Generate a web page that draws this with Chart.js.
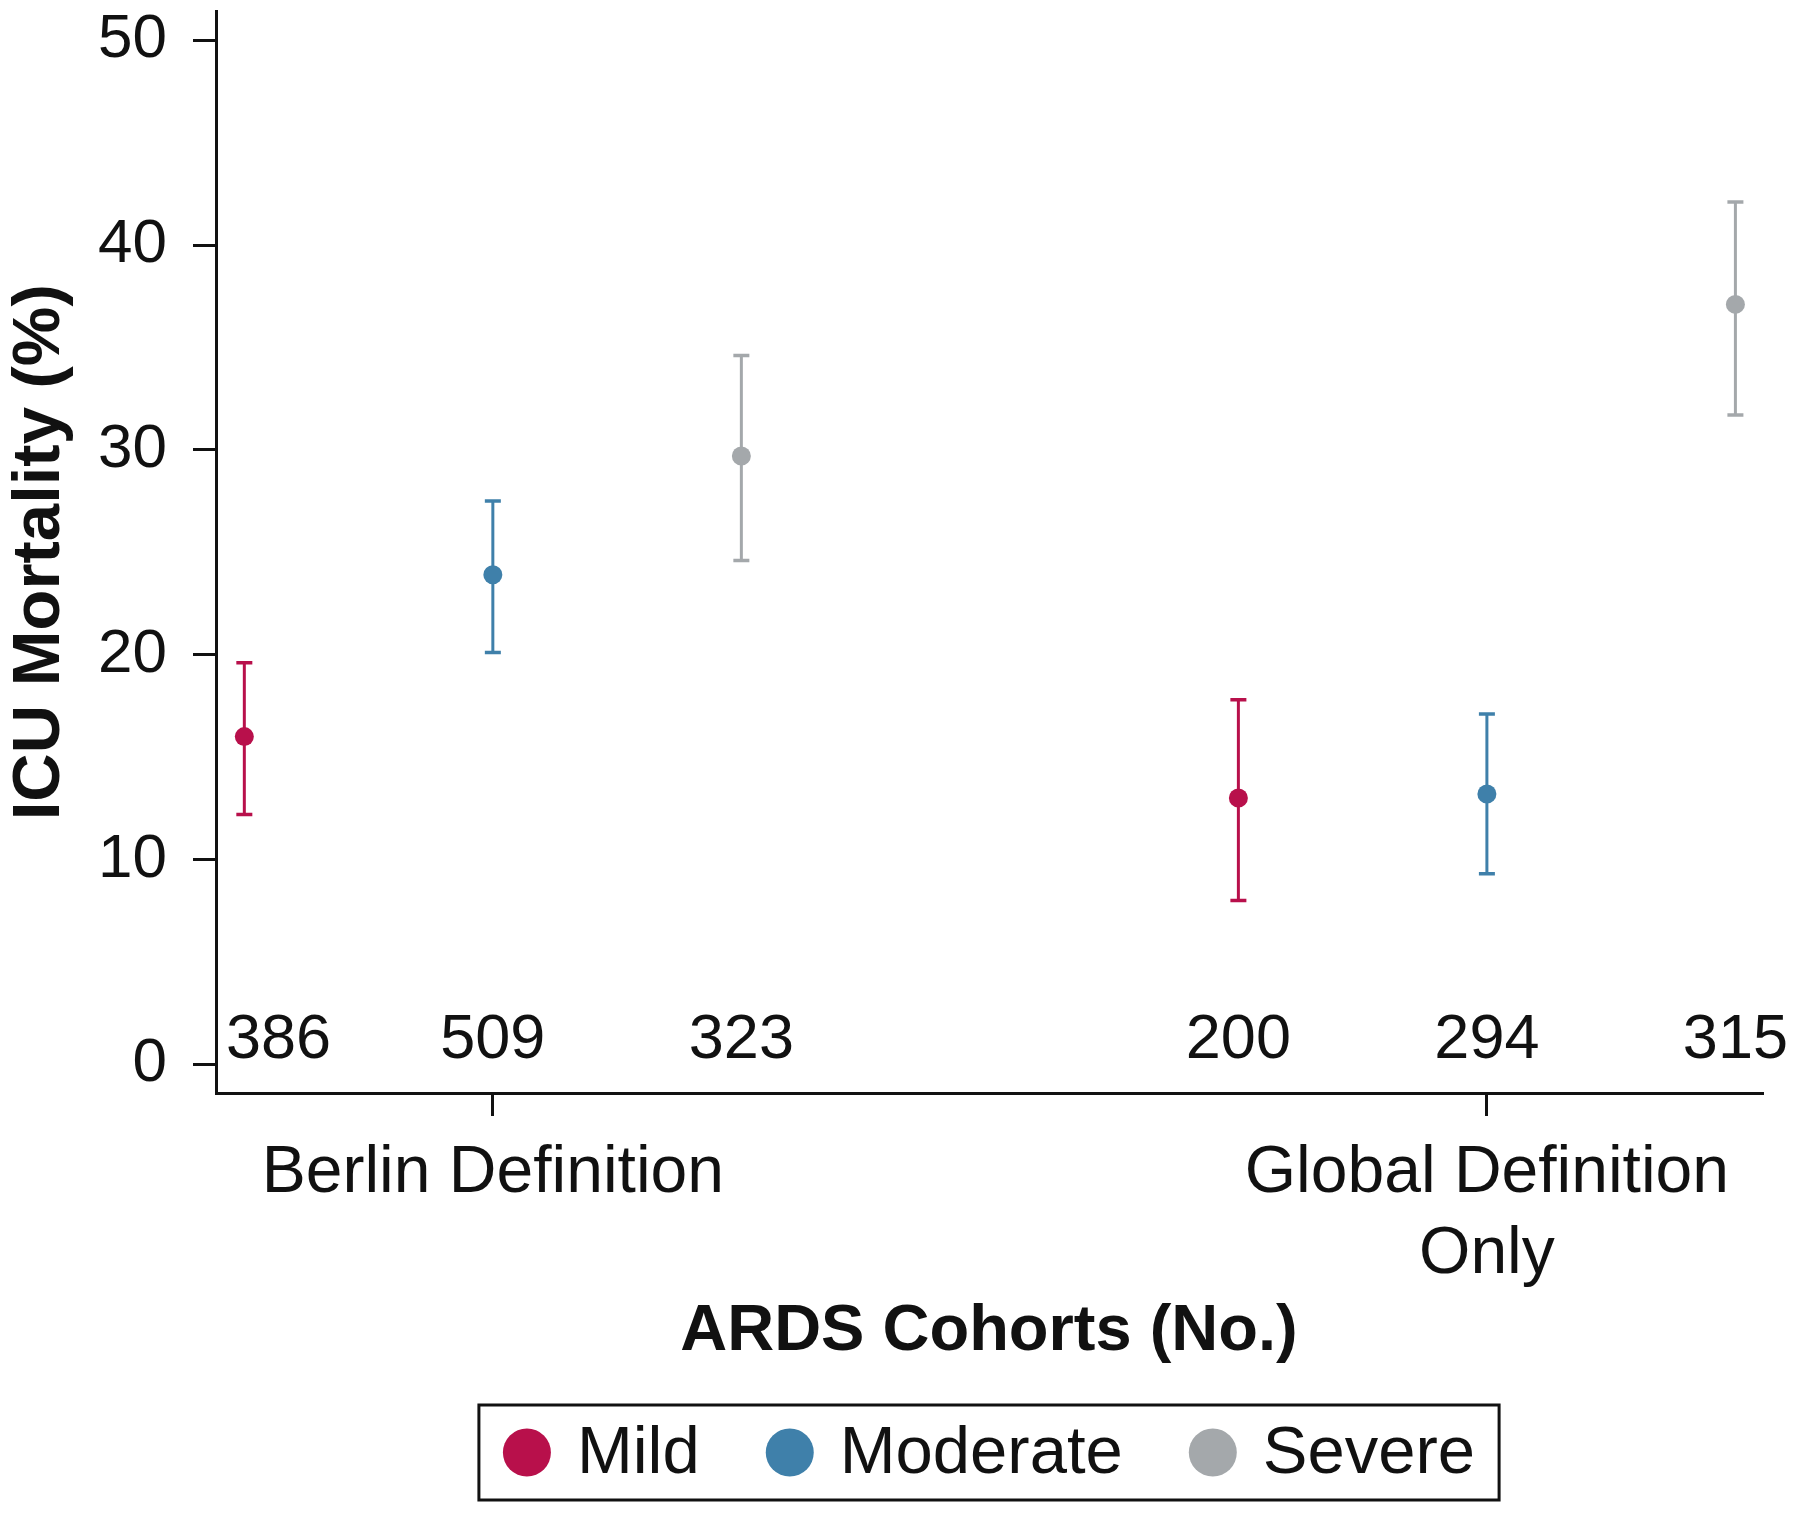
<!DOCTYPE html>
<html>
<head>
<meta charset="utf-8">
<title>ICU Mortality by ARDS Cohort</title>
<script src="https://cdn.jsdelivr.net/npm/chart.js@4.4.1/dist/chart.umd.min.js"></script>
<style>
  html, body { margin: 0; padding: 0; background: #fff; }
  #wrap { width: 1800px; height: 1514px; }
</style>
</head>
<body>
<div id="wrap"><canvas id="mortalityChart" width="1800" height="1514"></canvas></div>
<script>
// categories and series
var groupLabels = ['Berlin Definition', ['Global Definition', 'Only']];
var groupPositions = [1, 5];
var severityLabels = ['Mild', 'Moderate', 'Severe'];
var severityOffsets = [-1, 0, 1];
var severityColors = ['#b8104b', '#3f80aa', '#a4a8ab'];

// ICU mortality (%) per severity: [Berlin, Global]
var mildMortality = [16.0, 13.0];
var mildLower = [12.2, 8.0];
var mildUpper = [19.6, 17.8];
var moderateMortality = [23.9, 13.2];
var moderateLower = [20.1, 9.3];
var moderateUpper = [27.5, 17.1];
var severeMortality = [29.7, 37.1];
var severeLower = [24.6, 31.7];
var severeUpper = [34.6, 42.1];

// cohort sizes (No.) per severity: [Berlin, Global]
var mildCounts = [386, 200];
var moderateCounts = [509, 294];
var severeCounts = [323, 315];

var yTickValues = [0, 10, 20, 30, 40, 50];

var mortalityBySeverity = [mildMortality, moderateMortality, severeMortality];
var lowerBySeverity = [mildLower, moderateLower, severeLower];
var upperBySeverity = [mildUpper, moderateUpper, severeUpper];
var countsBySeverity = [mildCounts, moderateCounts, severeCounts];

var fontFamily = '"Liberation Sans", Arial, Helvetica, sans-serif';
var textColor = '#111111';

function xFor(sev, grp) {
	return groupPositions[grp] + severityOffsets[sev];
}

var datasets = [];
severityLabels.forEach(function (name, s) {
	datasets.push({
		label: name,
		type: 'scatter',
		order: 0,
		data: mortalityBySeverity[s].map(function (v, g) { return { x: xFor(s, g), y: v }; }),
		backgroundColor: severityColors[s],
		borderColor: severityColors[s],
		pointRadius: 9.5,
		pointBorderWidth: 0,
		pointHoverRadius: 9.5
	});
	var bars = [];
	lowerBySeverity[s].forEach(function (lo, g) {
		bars.push({ x: xFor(s, g), y: lo });
		bars.push({ x: xFor(s, g), y: upperBySeverity[s][g] });
		bars.push({ x: xFor(s, g), y: null });
	});
	datasets.push({
		label: name + ' CI',
		type: 'scatter',
		order: 1,
		showLine: true,
		spanGaps: false,
		data: bars,
		borderColor: severityColors[s],
		borderWidth: 3,
		pointStyle: 'line',
		pointRadius: 8,
		pointHoverRadius: 8,
		pointBorderWidth: 3.5,
		pointBorderColor: severityColors[s]
	});
});

// cohort size labels sitting just above zero
var countLabels = {
	id: 'countLabels',
	afterDatasetsDraw: function (chart) {
		var ctx = chart.ctx, xs = chart.scales.x, ys = chart.scales.y;
		ctx.save();
		ctx.font = '63px ' + fontFamily;
		ctx.fillStyle = textColor;
		ctx.textAlign = 'center';
		ctx.textBaseline = 'alphabetic';
		var base = ys.getPixelForValue(0) - 6;
		countsBySeverity.forEach(function (counts, s) {
			counts.forEach(function (n, g) {
				var txt = String(n);
				var w = ctx.measureText(txt).width;
				var x = xs.getPixelForValue(xFor(s, g));
				var minX = chart.chartArea.left + 10 + w / 2;
				if (x < minX) x = minX;
				ctx.fillText(txt, x, base);
			});
		});
		ctx.restore();
	}
};

// boxed legend centred under the plot area
var boxedLegend = {
	id: 'boxedLegend',
	afterDraw: function (chart) {
		var ctx = chart.ctx;
		var r = 24, gap = 26, spacing = 66, pad = 24;
		ctx.save();
		ctx.font = '67px ' + fontFamily;
		var widths = severityLabels.map(function (t) { return ctx.measureText(t).width; });
		var total = pad * 2;
		widths.forEach(function (w, i) { total += 2 * r + gap + w + (i > 0 ? spacing : 0); });
		var cx = (chart.chartArea.left + chart.chartArea.right) / 2;
		var top = chart.scales.x.bottom + 25;
		var h = 95;
		var left = cx - total / 2;
		ctx.lineWidth = 3;
		ctx.strokeStyle = '#111';
		ctx.strokeRect(left, top, total, h);
		var midY = top + h / 2;
		var x = left + pad;
		ctx.textAlign = 'left';
		ctx.textBaseline = 'middle';
		severityLabels.forEach(function (t, i) {
			ctx.fillStyle = severityColors[i];
			ctx.beginPath();
			ctx.arc(x + r, midY, r, 0, Math.PI * 2);
			ctx.fill();
			ctx.fillStyle = textColor;
			ctx.fillText(t, x + 2 * r + gap, midY + 2);
			x += 2 * r + gap + widths[i] + spacing;
		});
		ctx.restore();
	}
};

var ctx = document.getElementById('mortalityChart');
var mortalityChart = new Chart(ctx, {
	type: 'scatter',
	data: { datasets: datasets },
	options: {
		responsive: false,
		animation: false,
		devicePixelRatio: 1,
		layout: { padding: { top: 11, right: 38, bottom: 134, left: 0 } },
		plugins: {
			legend: { display: false },
			tooltip: { enabled: false }
		},
		scales: {
			x: {
				type: 'linear',
				min: -0.114,
				max: 6.107,
				afterBuildTicks: function (scale) {
					scale.ticks = groupPositions.map(function (v) { return { value: v }; });
				},
				afterFit: function (scale) {
					scale.height = 287;
					scale.paddingLeft = 0;
					scale.paddingRight = 0;
				},
				ticks: {
					autoSkip: false,
					maxRotation: 0,
					padding: 18,
					color: textColor,
					font: { family: fontFamily, size: 66, lineHeight: 1.22 },
					callback: function (value, index) { return groupLabels[index]; }
				},
				grid: { drawOnChartArea: false, drawTicks: true, tickLength: 23, color: '#111', lineWidth: 3 },
				border: { display: true, color: '#111', width: 3 },
				title: {
					display: true,
					text: 'ARDS Cohorts (No.)',
					color: textColor,
					font: { family: fontFamily, size: 65, weight: 'bold' },
					padding: { top: 0, bottom: 9 }
				}
			},
			y: {
				min: -1.4,
				max: 51.4,
				afterBuildTicks: function (scale) {
					scale.ticks = yTickValues.map(function (v) { return { value: v }; });
				},
				afterFit: function (scale) {
					scale.width = 216;
					scale.paddingTop = 0;
					scale.paddingBottom = 0;
				},
				ticks: {
					padding: 26,
					color: textColor,
					font: { family: fontFamily, size: 62 }
				},
				grid: { drawOnChartArea: false, drawTicks: true, tickLength: 23, color: '#111', lineWidth: 3 },
				border: { display: true, color: '#111', width: 3 },
				title: {
					display: true,
					text: 'ICU Mortality (%)',
					color: textColor,
					font: { family: fontFamily, size: 67, weight: 'bold' },
					padding: { top: 0, bottom: 0 }
				}
			}
		}
	},
	plugins: [countLabels, boxedLegend]
});
</script>
</body>
</html>
